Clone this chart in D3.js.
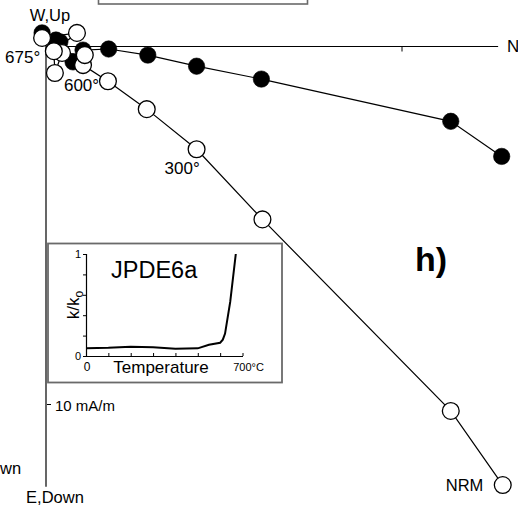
<!DOCTYPE html>
<html>
<head>
<meta charset="utf-8">
<script src="https://cdn.jsdelivr.net/npm/d3@7"></script>
<style>
  html, body { margin: 0; padding: 0; background: #fff; }
  svg { display: block; font-family: "Liberation Sans", Arial, Helvetica, sans-serif; }
</style>
</head>
<body>
<svg id="chart" width="518" height="507"></svg>
<script>
// Demagnetisation steps (°C, 0 = NRM)
const steps = [0, 100, 200, 300, 450, 600, 625, 640, 650, 660, 665, 670, 675];

// Vertical-plane projection (open circles): N component and Down component, mA/m
const vertN    = [12.83, 11.37, 6.08, 4.23, 2.83, 1.74, 1.04, 1.09, 0.45, 0.25, 0.22, 0.87, -0.11];
const vertDown = [12.25, 10.18, 4.83, 2.87, 1.75, 0.97, 0.52, 0.24, 0.18, 0.74, 0.13, -0.38, -0.24];

// Horizontal-plane projection (filled circles): N component and E component, mA/m
const horzN = [12.80, 11.37, 6.05, 4.23, 2.86, 1.76, 1.04, 0.76, 0.39, 0.28, 0.28, 0.39, -0.11];
const horzE = [3.07, 2.09, 0.91, 0.55, 0.24, 0.07, 0.10, 0.43, 0.15, 0.04, -0.18, -0.13, -0.38];

// Steps that carry a temperature label, and the label text
const labelledSteps = [300, 600, 675];
const labelText = ["300°", "600°", "675°"];

// Scale bar value
const scaleValue = 10; // mA/m

// Susceptibility vs temperature (inset)
const suscT = [0, 100, 200, 300, 400, 500, 550, 600, 612, 622, 645, 670];
const suscK = [0.075, 0.08, 0.09, 0.085, 0.07, 0.075, 0.11, 0.13, 0.16, 0.22, 0.53, 1.0];
const suscYTicks = [0, 0.2, 0.4, 0.6, 0.8, 1];
const suscXTicks = [0, 100, 200, 300, 400, 500, 600, 700];

const svg = d3.select("#chart");

// Orthogonal plot scales (mA/m -> px); Down / East increase downward
const x = d3.scaleLinear().domain([0, 10]).range([46, 402]);
const y = d3.scaleLinear().domain([0, 10]).range([46.5, 404.5]);

// Partial box at the top edge
svg.append("rect")
  .attr("x", 98.5).attr("y", -20).attr("width", 209).attr("height", 24)
  .attr("fill", "none").attr("stroke", "#6a6a6a").attr("stroke-width", 1.6);

// Axes
svg.append("line")
  .attr("x1", x(0)).attr("x2", x(12.7)).attr("y1", y(0)).attr("y2", y(0))
  .attr("stroke", "#000").attr("stroke-width", 1.2);
svg.append("line")
  .attr("x1", x(0)).attr("x2", x(0)).attr("y1", y(-0.45)).attr("y2", y(12.3))
  .attr("stroke", "#000").attr("stroke-width", 1.2);

// Scale ticks at 10 mA/m
svg.append("line")
  .attr("x1", x(scaleValue)).attr("x2", x(scaleValue))
  .attr("y1", y(0)).attr("y2", y(0) + 5)
  .attr("stroke", "#000").attr("stroke-width", 1);
svg.append("line")
  .attr("x1", x(0) + 1).attr("x2", x(0) + 5)
  .attr("y1", y(scaleValue)).attr("y2", y(scaleValue))
  .attr("stroke", "#000").attr("stroke-width", 1);

const txt = (s, px, py, size, anchor, weight) =>
  svg.append("text").attr("x", px).attr("y", py)
    .attr("font-size", size).attr("text-anchor", anchor || "start")
    .attr("font-weight", weight || "normal").attr("fill", "#000").text(s);

txt("W,Up", 50, 21, 16.5, "middle");
txt("N", 507, 52, 17);
txt("E,Down", 55, 503, 16.5, "middle");
txt("wn", 0, 474, 16.5);
txt("10 mA/m", 55, 411, 15);
txt("h)", 415, 271, 34, "start", "bold");

// Horizontal projection: filled circles
const horz = steps.map((s, i) => ({ s, n: horzN[i], v: horzE[i] }));
const vert = steps.map((s, i) => ({ s, n: vertN[i], v: vertDown[i] }));
const line = d3.line().x(d => x(d.n)).y(d => y(d.v));

svg.append("path").datum(horz).attr("d", line)
  .attr("fill", "none").attr("stroke", "#000").attr("stroke-width", 1.2);
svg.append("path").datum(vert).attr("d", line)
  .attr("fill", "none").attr("stroke", "#000").attr("stroke-width", 1.2);

svg.append("g").selectAll("circle").data(horz).join("circle")
  .attr("cx", d => x(d.n)).attr("cy", d => y(d.v)).attr("r", 8.2)
  .attr("fill", "#000").attr("stroke", "#000").attr("stroke-width", 0.6);

// Vertical projection: open circles
svg.append("g").selectAll("circle").data(vert).join("circle")
  .attr("cx", d => x(d.n)).attr("cy", d => y(d.v)).attr("r", 8.4)
  .attr("fill", "#fff").attr("stroke", "#000").attr("stroke-width", 1.3);

// Temperature labels next to the vertical-projection points
const labelOffsets = { 300: [-32, 25], 600: [-44, 10], 675: [-37, 25] };
labelledSteps.forEach((s, k) => {
  const d = vert.find(p => p.s === s);
  const o = labelOffsets[s];
  txt(labelText[k], x(d.n) + o[0], y(d.v) + o[1], 17);
});
const nrm = vert[0];
txt("NRM", x(nrm.n) - 57, y(nrm.v) + 6, 16.5);

// Inset: susceptibility curve
const inset = svg.append("g");
inset.append("rect")
  .attr("x", 48).attr("y", 243.5).attr("width", 234).attr("height", 139)
  .attr("fill", "#fff").attr("stroke", "#6a6a6a").attr("stroke-width", 1.8);

const ix = d3.scaleLinear().domain([0, 700]).range([86, 242.5]);
const iy = d3.scaleLinear().domain([0, 1]).range([356, 254]);

inset.append("g").attr("transform", `translate(${ix(0)},0)`)
  .call(d3.axisLeft(iy).tickValues(suscYTicks).tickSize(3).tickFormat(""))
  .call(g => g.select(".domain").attr("stroke-width", 1.2))
  .call(g => g.selectAll(".tick line").attr("stroke-width", 1));
inset.append("g").attr("transform", `translate(0,${iy(0)})`)
  .call(d3.axisTop(ix).tickValues(suscXTicks).tickSize(3).tickFormat("").tickSizeOuter(0))
  .call(g => g.select(".domain").attr("stroke-width", 1.2))
  .call(g => g.selectAll(".tick line").attr("stroke-width", 1));

const itxt = (s, px, py, size, anchor) =>
  inset.append("text").attr("x", px).attr("y", py)
    .attr("font-size", size).attr("text-anchor", anchor || "start").attr("fill", "#000").text(s);
itxt("1", ix(0) - 5, iy(1) + 4, 11, "end");
itxt("0", ix(0) - 5, iy(0) + 4, 11, "end");
itxt("0", ix(0) + 1, iy(0) + 15, 12, "middle");
itxt("700°C", ix(700) + 6, iy(0) + 15, 11, "middle");
itxt("Temperature", 161, iy(0) + 17, 17, "middle");
itxt("JPDE6a", 111, 278, 23.5);

const kl = inset.append("text")
  .attr("transform", `translate(79,${iy(0.5)}) rotate(-90)`)
  .attr("font-size", 17).attr("text-anchor", "middle").attr("fill", "#000");
kl.append("tspan").text("k/k");
kl.append("tspan").attr("font-size", 12).attr("dy", 4).text("o");

inset.append("path")
  .datum(suscT.map((t, i) => [t, suscK[i]]))
  .attr("d", d3.line().x(d => ix(d[0])).y(d => iy(d[1])))
  .attr("fill", "none").attr("stroke", "#000").attr("stroke-width", 2);
</script>
</body>
</html>
